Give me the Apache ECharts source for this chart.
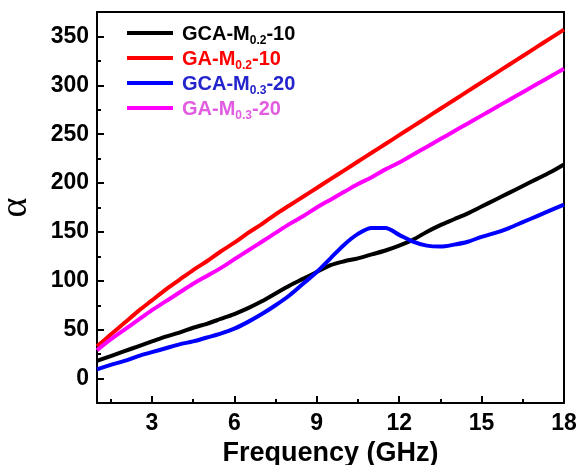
<!DOCTYPE html>
<html>
<head>
<meta charset="utf-8">
<script src="https://cdn.jsdelivr.net/npm/echarts@6/dist/echarts.min.js"></script>
<style>html,body{margin:0;padding:0;background:#fff}#c{width:581px;height:465px}</style>
</head>
<body>
<div id="c"></div>
<script>
const freq = [1,1.5,2,2.5,3,3.5,4,4.5,5,5.5,6,6.5,7,7.5,8,8.5,9,9.5,10,10.5,11,11.5,12,12.5,13,13.5,14,14.5,15,15.5,16,16.5,17,17.5,18];
const gcaM02_10 = [18,23,28,33,38,43,47,52,56,61,66,72,79,87,95,102,109,116,120,123,127,131,136,142,150,157,163,169,176,183,190,197,204,211,219];
const gaM02_10 = [33,45,57,69,80,91,101,111,120,130,139,149,158,168,177,186,195,204,213,222,231,240,249,258,267,276,285,294,303,312,321,330,339,348,357];
const gcaM03_20 = [9.5,14,18,23,27,31,35,38,42,46,51,58,66,75,85,97,109,123,137,148,154,154,147,140,136,135,137,140,145,149,154,160,166,172,178];
const gaM03_20 = [29,40,50,60,70,79,88,97,105,113,122,131,140,149,158,166,175,183,191,199,206,214,221,229,237,245,253,261,269,277,285,293,301,309,317];
const xTicks = [3,6,9,12,15,18];
const yTicks = [0,50,100,150,200,250,300,350];
const seriesNames = ['GCA-M0.2-10','GA-M0.2-10','GCA-M0.3-20','GA-M0.3-20'];
const legendParts = [['GCA-M','0.2','-10'],['GA-M','0.2','-10'],['GCA-M','0.3','-20'],['GA-M','0.3','-20']];
const lineColors = ['#000000','#ff0000','#0000ff','#ff00ff'];
const textColors = ['#000000','#ff0000','#2424cc','#e05ce0'];
const values = [gcaM02_10, gaM02_10, gcaM03_20, gaM03_20];

const font = 'Liberation Sans, Arial, sans-serif';
const rich = {};
textColors.forEach((c,i)=>{
  rich['m'+i] = {color:c, fontSize:20, fontWeight:'bold', fontFamily:font, lineHeight:22, verticalAlign:'bottom'};
  rich['s'+i] = {color:c, fontSize:12, fontWeight:'bold', fontFamily:font, lineHeight:22, verticalAlign:'bottom', padding:[0,0,-3,0]};
});

const chart = echarts.init(document.getElementById('c'));
const tickLine = {color:'#000', width:2};
chart.setOption({
  animation:false,
  grid:{left:97, right:17, top:12, bottom:62, containLabel:false, outerBoundsMode:'none'},
  legend:{
    left:122, top:19, orient:'vertical', itemWidth:46, itemHeight:4, itemGap:2, icon:'rect',
    data: seriesNames.map((n,i)=>({name:n, itemStyle:{color:lineColors[i]}})),
    formatter: function(name){
      const i = seriesNames.indexOf(name);
      const p = legendParts[i];
      return '{m'+i+'|'+p[0]+'}{s'+i+'|'+p[1]+'}{m'+i+'|'+p[2]+'}';
    },
    textStyle:{rich:rich, padding:[0,0,0,4]}
  },
  xAxis:[
    {type:'value', min:1, max:18, position:'bottom',
     name:'Frequency (GHz)', nameLocation:'middle', nameGap:35,
     nameTextStyle:{fontSize:27, fontWeight:'bold', color:'#000', fontFamily:font},
     axisLine:{show:true, onZero:false, lineStyle:{color:'#000', width:2}},
     axisTick:{show:false},
     axisLabel:{customValues:xTicks, fontSize:23, fontWeight:'bold', color:'#000', fontFamily:font, margin:9},
     splitLine:{show:false}},
    // tick-only axis counted from the right edge (18 GHz) so majors land on 18,15,...,3
    {type:'value', min:0, max:17, interval:3, inverse:true, position:'bottom',
     axisLine:{show:false, onZero:false},
     axisTick:{show:true, inside:true, length:7, lineStyle:tickLine},
     axisLabel:{show:false}, splitLine:{show:false}},
    {type:'value', min:0, max:17, interval:1.5, inverse:true, position:'bottom',
     axisLine:{show:false, onZero:false},
     axisTick:{show:true, inside:true, length:4, lineStyle:tickLine},
     axisLabel:{show:false}, splitLine:{show:false}},
    {type:'value', min:1, max:18, position:'top',
     axisLine:{show:true, onZero:false, lineStyle:{color:'#000', width:2}},
     axisTick:{show:false}, axisLabel:{show:false}, splitLine:{show:false}}
  ],
  yAxis:[
    {type:'value', min:-25, max:375, interval:50, position:'left',
     name:'α', nameLocation:'middle', nameGap:62,
     nameTextStyle:{fontSize:38, color:'#000', fontFamily:'Liberation Serif, serif'},
     axisLine:{show:true, onZero:false, lineStyle:{color:'#000', width:2}},
     axisTick:{show:true, inside:true, length:4, lineStyle:tickLine},
     minorTick:{show:true, splitNumber:2, length:7, lineStyle:tickLine},
     axisLabel:{customValues:yTicks, fontSize:23, fontWeight:'bold', color:'#000', fontFamily:font, margin:8},
     splitLine:{show:false}, minorSplitLine:{show:false}},
    {type:'value', min:-25, max:375, position:'right',
     axisLine:{show:true, onZero:false, lineStyle:{color:'#000', width:2}},
     axisTick:{show:false}, axisLabel:{show:false}, splitLine:{show:false}}
  ],
  series: seriesNames.map((n,i)=>({
    name:n, type:'line', xAxisIndex:0, yAxisIndex:0, showSymbol:false, smooth:0.3,
    lineStyle:{color:lineColors[i], width:4}, itemStyle:{color:lineColors[i]},
    data: freq.map((f,k)=>[f, values[i][k]])
  }))
});
</script>
</body>
</html>
